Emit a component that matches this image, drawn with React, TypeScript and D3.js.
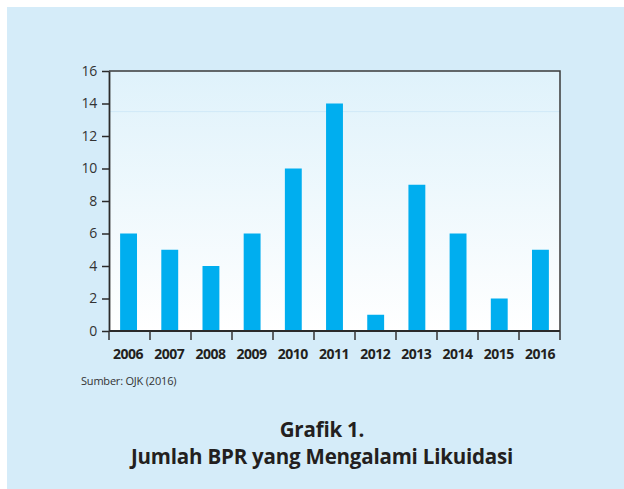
import { useEffect, useRef } from 'react';
import * as d3 from 'd3';

const years = ['2006', '2007', '2008', '2009', '2010', '2011', '2012', '2013', '2014', '2015', '2016'];
const counts = [6, 5, 4, 6, 10, 14, 1, 9, 6, 2, 5];
const yTicks = [0, 2, 4, 6, 8, 10, 12, 14, 16];
const titleLines = ['Grafik 1.', 'Jumlah BPR yang Mengalami Likuidasi'];
const sourceNote = 'Sumber: OJK (2016)';

const W = 624;
const H = 489;
const FONT = '"Open Sans", "Noto Sans", sans-serif';

function App() {
  const svgRef = useRef<SVGSVGElement>(null);

  useEffect(() => {
    const svg = d3.select(svgRef.current);
    svg.selectAll('*').remove();

    const left = 109;
    const right = 560;
    const top = 71;
    const bottom = 331;

    const defs = svg.append('defs');
    const grad = defs
      .append('linearGradient')
      .attr('id', 'plotGrad')
      .attr('x1', 0)
      .attr('y1', 0)
      .attr('x2', 0)
      .attr('y2', 1);
    grad.append('stop').attr('offset', '0%').attr('stop-color', '#dff2fb');
    grad.append('stop').attr('offset', '100%').attr('stop-color', '#ffffff');

    // panel background
    svg.append('rect').attr('x', 7).attr('y', 7).attr('width', W - 7).attr('height', H - 7).attr('fill', '#d5ecf9');

    const x = d3.scaleBand().domain(years).range([left, right]).paddingInner(0.59).paddingOuter(0.27);
    const y = d3.scaleLinear().domain([0, 16]).range([bottom, top]);

    svg
      .append('rect')
      .attr('x', left)
      .attr('y', top)
      .attr('width', right - left)
      .attr('height', bottom - top)
      .attr('fill', 'url(#plotGrad)');

    // faint band line seen in the original
    svg
      .append('line')
      .attr('x1', left)
      .attr('x2', right)
      .attr('y1', y(13.5))
      .attr('y2', y(13.5))
      .attr('stroke', '#cfe9f7')
      .attr('stroke-width', 1);

    svg
      .append('g')
      .selectAll('rect')
      .data(counts)
      .enter()
      .append('rect')
      .attr('x', (d, i) => x(years[i]))
      .attr('y', (d) => y(d))
      .attr('width', x.bandwidth())
      .attr('height', (d) => bottom - y(d))
      .attr('fill', '#00aeef');

    // frame: top and right lines
    svg
      .append('path')
      .attr('d', `M${left},${top}H${right}V${bottom}`)
      .attr('fill', 'none')
      .attr('stroke', '#3a3a3a')
      .attr('stroke-width', 1.5);

    const yAxis = svg
      .append('g')
      .attr('transform', `translate(${left},0)`)
      .call(d3.axisLeft(y).tickValues(yTicks).tickSize(7).tickPadding(5).tickSizeOuter(0));
    yAxis.select('.domain').attr('stroke', '#2b2b2b').attr('stroke-width', 1.8);
    yAxis.selectAll('.tick line').attr('stroke', '#2b2b2b').attr('stroke-width', 1.5);
    yAxis
      .selectAll('.tick text')
      .attr('fill', '#333')
      .style('font-family', FONT)
      .style('font-size', '14px')
      .style('letter-spacing', '-0.3px');

    // x axis: ticks at band boundaries
    const boundaries = d3.range(years.length + 1).map((i) => left + (i * (right - left)) / years.length);
    const xg = svg.append('g');
    xg.append('line')
      .attr('x1', left)
      .attr('x2', right)
      .attr('y1', bottom)
      .attr('y2', bottom)
      .attr('stroke', '#2b2b2b')
      .attr('stroke-width', 1.8);
    xg.selectAll('line.tick')
      .data(boundaries)
      .enter()
      .append('line')
      .attr('class', 'tick')
      .attr('x1', (d) => d)
      .attr('x2', (d) => d)
      .attr('y1', bottom)
      .attr('y2', bottom + 9)
      .attr('stroke', '#333')
      .attr('stroke-width', 1.5);
    xg.selectAll('text')
      .data(years)
      .enter()
      .append('text')
      .attr('x', (d) => x(d)! + x.bandwidth() / 2 - 0.5)
      .attr('y', 359)
      .attr('text-anchor', 'middle')
      .attr('fill', '#231f20')
      .style('font-family', FONT)
      .style('font-weight', 'bold')
      .style('font-size', '14px')
      .style('letter-spacing', '-0.5px')
      .text((d) => d);

    svg
      .append('text')
      .attr('x', 81)
      .attr('y', 385)
      .attr('fill', '#333')
      .style('font-family', FONT)
      .style('font-size', '11px')
      .style('letter-spacing', '-0.2px')
      .text(sourceNote);

    svg
      .selectAll('text.title')
      .data(titleLines)
      .enter()
      .append('text')
      .attr('class', 'title')
      .attr('x', 322)
      .attr('y', (d, i) => 437 + i * 27)
      .attr('text-anchor', 'middle')
      .attr('fill', '#231f20')
      .style('font-family', FONT)
      .style('font-weight', 'bold')
      .style('font-size', '20.5px')
      .style('letter-spacing', '-0.2px')
      .text((d) => d);
  }, []);

  return (
    <div style={{ position: 'fixed', left: 0, top: 0 }}>
      <svg width={W} height={H} ref={svgRef} style={{ display: 'block', background: '#fff' }} />
    </div>
  );
}

export default App;
